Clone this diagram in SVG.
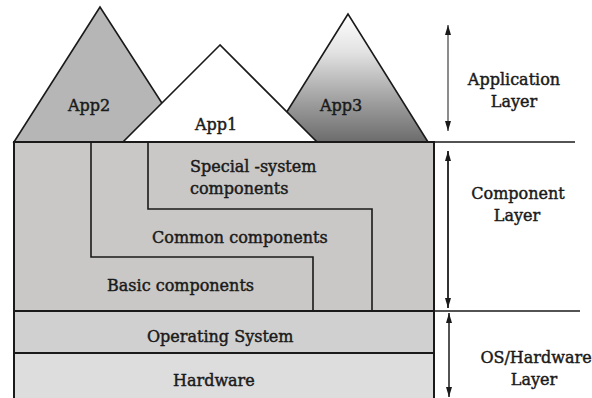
<svg xmlns="http://www.w3.org/2000/svg" width="592" height="398" viewBox="0 0 592 398">
  <style>
    .lbl { font-family: "DejaVu Serif", "Liberation Serif", serif; font-size: 16px; fill: #1a1a1a; stroke: #1a1a1a; stroke-width: 0.45; }
    .mid { text-anchor: middle; }
    .tri { stroke: #1a1a1a; stroke-width: 1.6; stroke-linejoin: miter; }
    .edge { fill: none; stroke: #1a1a1a; stroke-width: 1.6; }
    .frame { stroke: #1a1a1a; stroke-width: 2; }
    .sep { fill: none; stroke: #1a1a1a; stroke-width: 1.4; }
  </style>
  <defs>
    <linearGradient id="app3Fill" x1="0" y1="14" x2="0" y2="142" gradientUnits="userSpaceOnUse">
      <stop offset="0" stop-color="#ffffff"/>
      <stop offset="0.3" stop-color="#e2e2e2"/>
      <stop offset="0.7" stop-color="#9c9c9c"/>
      <stop offset="1" stop-color="#6c6c6c"/>
    </linearGradient>
    <marker id="head" viewBox="0 0 10 6" refX="10" refY="3" markerWidth="10" markerHeight="6" markerUnits="userSpaceOnUse" orient="auto-start-reverse">
      <path d="M0,0 L10,3 L0,6 z" fill="#1a1a1a"/>
    </marker>
  </defs>

  <rect width="592" height="398" fill="#ffffff"/>

  <!-- applications -->
  <g id="app2">
    <polygon class="tri" points="100,7 14,142 187,142" fill="#b6b6b6"/>
    <text class="lbl" x="68" y="111">App2</text>
  </g>
  <g id="app3">
    <polygon class="tri" points="348,14 268,142 428,142" fill="url(#app3Fill)"/>
    <text class="lbl" x="320" y="111">App3</text>
  </g>
  <g id="app1">
    <polygon class="tri" points="220,45 123,142 317,142" fill="#ffffff"/>
    <text class="lbl" x="195" y="130">App1</text>
  </g>

  <!-- component layer -->
  <g id="components">
    <rect class="frame" x="14" y="142" width="420" height="169" fill="#c9c8c6"/>
    <polyline class="edge" points="91,142 91,257 313,257 313,311"/>
    <polyline class="edge" points="148,142 148,209 372,209 372,311"/>
    <text class="lbl" x="190" y="172">Special -system</text>
    <text class="lbl" x="190" y="194">components</text>
    <text class="lbl" x="152" y="243">Common components</text>
    <text class="lbl" x="107" y="291">Basic components</text>
  </g>

  <g id="os">
    <rect class="frame" x="14" y="311" width="420" height="42" fill="#d0d0d0"/>
    <text class="lbl" x="147" y="342">Operating System</text>
  </g>
  <g id="hardware">
    <rect class="frame" x="14" y="353" width="420" height="46" fill="#dddddd"/>
    <text class="lbl" x="173" y="386">Hardware</text>
  </g>

  <!-- layer captions -->
  <g id="application-layer">
    <text class="lbl mid" x="514" y="85">Application</text>
    <text class="lbl mid" x="514" y="107">Layer</text>
  </g>
  <g id="component-layer">
    <text class="lbl mid" x="518" y="199">Component</text>
    <text class="lbl mid" x="517" y="221">Layer</text>
  </g>
  <g id="os-hardware-layer">
    <text class="lbl mid" x="536" y="363">OS/Hardware</text>
    <text class="lbl mid" x="534" y="385">Layer</text>
  </g>

  <!-- connectors: layer separators and extent arrows -->
  <g id="connectors">
    <line class="sep" x1="434" y1="142" x2="575" y2="142"/>
    <line class="sep" x1="434" y1="311" x2="580" y2="311"/>
    <line x1="448" y1="25" x2="448" y2="131" stroke="#8c8c8c" stroke-width="2" marker-start="url(#head)" marker-end="url(#head)"/>
    <line x1="448" y1="151" x2="448" y2="308" stroke="#333333" stroke-width="2" marker-start="url(#head)" marker-end="url(#head)"/>
    <line x1="449" y1="313" x2="449" y2="397" stroke="#1a1a1a" stroke-width="1.5" marker-start="url(#head)" marker-end="url(#head)"/>
  </g>
</svg>
